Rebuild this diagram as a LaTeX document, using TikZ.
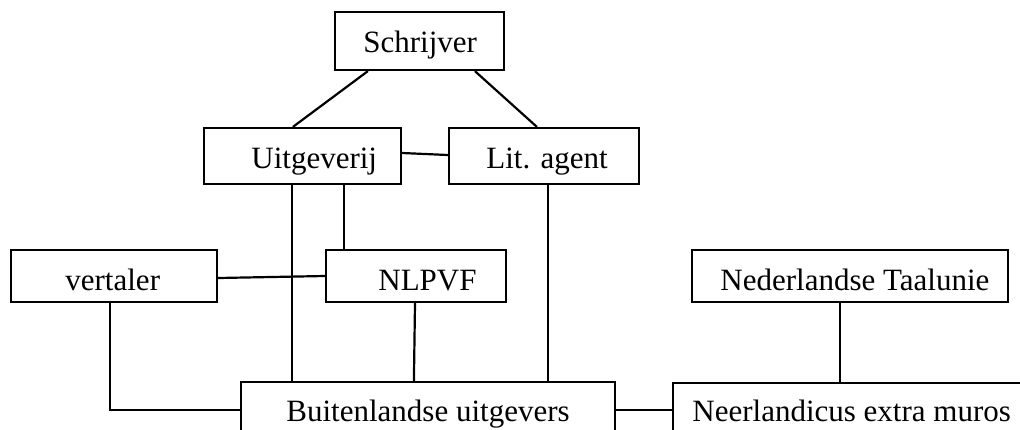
\documentclass[tikz,border=0pt]{standalone}
\usepackage{fontspec}
\setmainfont{Liberation Serif}
\usetikzlibrary{calc}
\tikzset{
  boxnode/.style={draw, line width=1.1pt, inner sep=0pt, rectangle},
  lbl/.style={anchor=base west, inner sep=0pt, font=\fontsize{15.5pt}{18pt}\selectfont},
  conn/.style={line width=1.1pt}
}
\begin{document}
\begin{tikzpicture}[x=0.5pt, y=-0.5pt]
\clip (0,0) rectangle (1020,429);
% boxes
\node[boxnode, minimum width=84.5pt, minimum height=29pt] (schr) at (419.5,41) {};
\node[boxnode, minimum width=98.5pt, minimum height=28pt] (uitg) at (302.5,156) {};
\node[boxnode, minimum width=95pt, minimum height=28pt] (lit) at (544,156) {};
\node[boxnode, minimum width=103pt, minimum height=26pt] (vert) at (114,276) {};
\node[boxnode, minimum width=90pt, minimum height=26pt] (nl) at (416,276) {};
\node[boxnode, minimum width=158pt, minimum height=26pt] (tu) at (850,276) {};
\node[boxnode, minimum width=187pt, minimum height=39pt] (bu) at (428,421) {};
\node[boxnode, minimum width=193.5pt, minimum height=38.5pt] (ne) at (866.5,421.5) {};
% labels
\node[lbl] (schrT) at (363,52) {Schrijver};
\node[lbl] (uitgT) at (251,168) {Uitgeverij};
\node[lbl] (litT) at (486,168) {Lit. agent};
\node[lbl] (vertT) at (65,290) {vertaler};
\node[lbl] (nlT) at (378,290) {NLPVF};
\node[lbl] (tuT) at (720,290) {Nederlandse Taalunie};
\node[lbl] (buT) at (286,421) {Buitenlandse uitgevers};
\node[lbl] (neT) at (692,421) {Neerlandicus extra muros};
% connectors
\draw[conn] ($(schr.south west)+(34,0)$) -- ($(uitg.north west)+(90,0)$);
\draw[conn] ($(schr.south west)+(141,0)$) -- ($(lit.north west)+(89,0)$);
\draw[conn] ($(uitg.east)+(0,-3)$) -- ($(lit.west)+(0,-1)$);
\draw[conn] ($(uitg.south west)+(89,0)$) -- ($(bu.north west)+(52,0)$);
\draw[conn] ($(uitg.south west)+(141,0)$) -- ($(nl.north west)+(19,0)$);
\draw[conn] ($(lit.south west)+(100,0)$) -- ($(bu.north west)+(308,0)$);
\draw[conn] ($(vert.east)+(0,2)$) -- (nl.west);
\draw[conn] ($(vert.south west)+(100,0)$) |- ($(bu.west)+(0,-11)$);
\draw[conn] ($(nl.south)+(-1,0)$) -- ($(bu.north west)+(174,0)$);
\draw[conn] ($(bu.east)+(0,-11)$) -- ($(ne.west)+(0,-11.5)$);
\draw[conn] ($(tu.south west)+(149,0)$) -- ($(ne.north west)+(168,0)$);
\end{tikzpicture}
\end{document}
